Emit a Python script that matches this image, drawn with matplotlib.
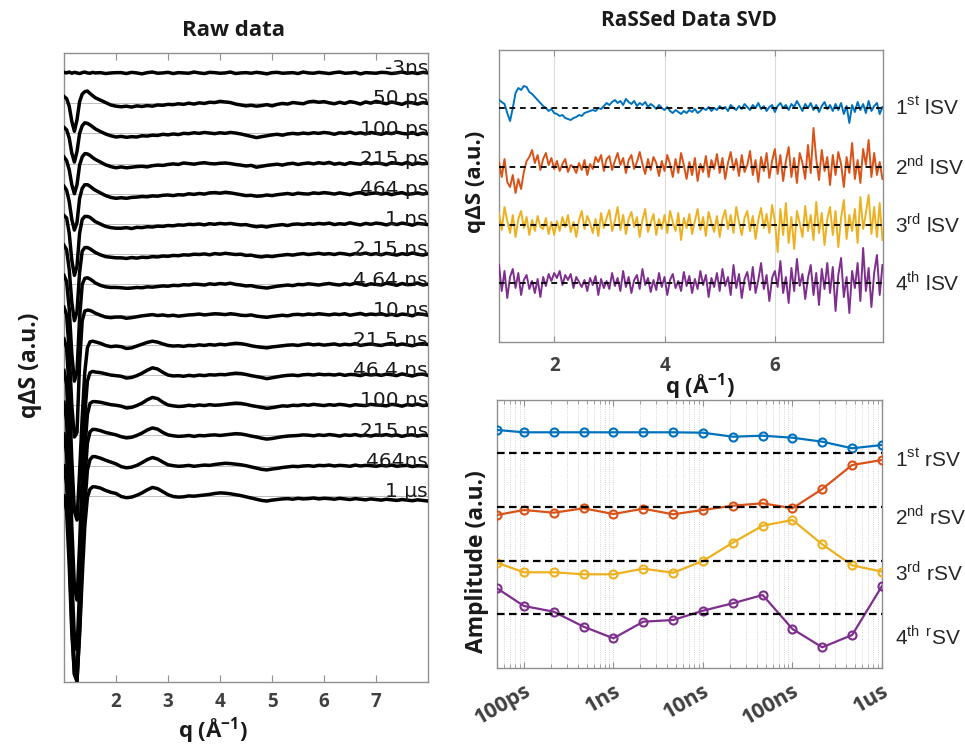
import numpy as np
import matplotlib
matplotlib.use('Agg')
import matplotlib.pyplot as plt
import matplotlib.transforms as mtransforms
from matplotlib.ticker import LogLocator, NullFormatter, FixedLocator

plt.rcParams['font.family'] = ['Liberation Sans', 'DejaVu Sans']
plt.rcParams['mathtext.fontset'] = 'custom'
plt.rcParams['mathtext.rm'] = 'Liberation Sans'
plt.rcParams['mathtext.bf'] = 'Open Sans:bold'

# ---------------- DATA ----------------
delay_labels = ['-3ns', '50 ps', '100 ps', '215 ps', '464 ps', '1 ns', '2.15 ns',
                '4.64 ns', '10 ns', '21.5 ns', '46.4 ns', '100 ns', '215 ns', '464ns', '1 µs']

q_raw = np.round(np.concatenate([np.arange(1.0, 1.601, 0.05), [1.7, 1.8, 1.9, 2.0],
                                 np.arange(2.1, 8.001, 0.1)]), 2)

raw_m3ns = [2, 0, 3, -1, 2, 0, -2, 1, 3, 0, -1, 2, 0, 1, -2, 0, 1,
            1, -2, 2, 0, -3, 1, 3, -1, 0, 2, -2, 1, 0, -1, 3, 0, -2, 2, 1, -1,
            0, 3, -2, 0, 1, -1, 2, 0, -3, 1, 2, -1, 0, 1, -2, 3, 0, -1, 2, 0,
            -2, 1, 3, -1, 0, 2, -3, 1, 0, -1, 2, 1, -2, 0, 3, -1, 1, -2, 2, 0]
raw_50ps = [22, 15, -10, -60, -93, -55, 5, 30, 38, 40, 32, 25, 18, 10, 2, -6, -10,
            -12, -10, -13, -9, -11, -8, -10, -6, -7, -4, -5, -2, -4, 0, -3, 1, -1, 3, 2, 6,
            4, 2, -3, -6, -9, -7, -10, -8, -5, -9, -4, -1, -3, 2, 0, -2, 4, 6, 3, 5,
            1, -2, 3, -1, 5, 2, -3, 4, 0, 6, 2, -2, 4, 0, -4, 3, 1, -3, 2, -1]
raw_100ps = [20, 12, -15, -65, -95, -60, 0, 25, 35, 33, 28, 22, 15, 6, -2, -8, -12,
             -10, -13, -11, -12, -8, -9, -6, -7, -3, -5, -2, -4, 0, -1, 2, 0, 3, 1, -1, 2,
             0, 3, 1, -2, -6, -10, -14, -11, -8, -5, -3, -6, -2, 0, -2, 1, -1, 2, 0, 3,
             1, -3, 2, 0, 4, -1, 2, -2, 3, 0, -3, 2, -1, 4, 0, -2, 3, -4, 1, -2]
raw_215ps = [22, 10, -20, -70, -100, -70, -5, 22, 33, 32, 27, 20, 14, 5, -4, -10, -14,
             -11, -14, -12, -10, -9, -11, -7, -5, -6, -3, -1, -3, 2, 0, -2, 1, 3, 0, -1, 1,
             2, 0, -3, -5, -8, -6, -12, -9, -6, -4, -2, -5, -1, 1, -3, 0, 2, -1, 3, 0,
             4, -2, 1, -3, 3, 0, -2, 5, -1, 2, 0, -4, 3, 1, -2, 4, -3, 2, -1, 1]
raw_464ps = [25, 12, -25, -85, -120, -95, -15, 18, 30, 30, 25, 18, 12, 3, -6, -12, -15,
             -13, -15, -12, -11, -9, -10, -7, -8, -5, -4, -6, -3, -4, 0, -2, 1, -1, 3, 4, 2,
             5, 3, 0, -3, -6, -5, -8, -7, -4, -6, -3, -1, 1, -2, 2, 0, -1, 3, 1, 4,
             2, -1, 3, 0, -3, 2, 4, -2, 1, 3, -1, 2, -3, 1, 4, -2, 0, 3, -1, 2]
raw_1ns = [28, 20, -30, -120, -170, -140, -30, 15, 25, 25, 22, 15, 8, 0, -8, -12, -14,
           -14, -12, -15, -11, -12, -9, -10, -7, -8, -5, -6, -3, -4, -1, -2, 0, -3, 1, -1, 2,
           0, 2, -1, -3, -2, -6, -9, -7, -10, -6, -4, -2, -5, -1, 0, -2, 1, -1, 2, 0,
           3, -2, 1, -1, 4, 0, -3, 2, -1, 3, 1, -3, 2, -2, 3, 0, -4, 2, 0, -2]
raw_2p15ns = [30, 15, -50, -160, -220, -190, -60, 10, 22, 22, 18, 12, 6, -2, -8, -10, -12,
              -12, -14, -11, -13, -10, -11, -8, -9, -6, -7, -4, -5, -2, -3, 0, -1, 1, -2, 2, 0,
              3, 1, -1, 0, -4, -3, -7, -9, -6, -8, -5, -3, -1, -3, 0, 2, -1, 1, 3, 0,
              2, -1, 3, 1, -2, 2, 0, 4, -1, 2, -2, 3, 0, -3, 2, -1, 4, 0, -3, 1]
raw_4p64ns = [30, 10, -80, -230, -320, -290, -110, 0, 20, 22, 18, 12, 5, -3, -8, -10, -10,
              -11, -13, -12, -10, -11, -8, -9, -7, -5, -6, -3, -4, -1, -2, 1, 0, -2, 2, 0, 3,
              1, 4, 0, -2, -5, -4, -8, -10, -12, -9, -6, -4, -2, -4, 0, -1, 2, 0, -2, 1,
              3, 0, -2, 2, -1, 4, 1, -3, 2, 0, -2, 4, 1, -3, 3, -1, 0, 5, -2, 1]
raw_10ns = [25, 0, -120, -300, -405, -390, -160, -20, 12, 15, 14, 10, 5, -2, -8, -10, -8,
            -8, -12, -10, -7, -4, -2, 0, -3, -1, -4, -2, -5, -3, -1, 0, 2, -1, 1, 3, 2,
            0, 3, 1, -2, -3, -1, -5, -7, -9, -6, -4, -2, -4, 0, 1, -1, 2, 0, 3, 1,
            -1, 2, 0, 3, -2, 1, 4, -1, 2, 0, 3, -2, 1, -3, 2, 0, -4, 3, 1, -2]
raw_21p5ns = [20, -10, -150, -380, -550, -580, -420, -240, -90, -10, 10, 12, 10, 5, -2, -6, -4,
              -6, -12, -10, -4, 2, 8, 12, 9, 3, -2, -4, -3, -5, -2, -3, 0, -2, 1, -1, 2,
              0, 3, 5, 4, 1, -3, -6, -8, -10, -7, -5, -3, -1, 0, -2, 1, 3, 0, 2, -1,
              1, 3, -1, 2, 0, 4, -2, 1, 3, 0, -2, 2, 5, -1, 3, 0, -3, 2, 4, 1]
raw_46p4ns = [15, -30, -220, -500, -700, -745, -560, -330, -130, -20, 8, 12, 10, 8, 4, 0, -2,
              -4, -10, -8, -2, 6, 16, 24, 20, 9, 0, -3, -2, -4, -1, -3, 0, -2, 1, 0, 2,
              1, 4, 6, 5, 2, -2, -5, -8, -12, -9, -6, -3, -1, 0, -2, 1, 2, 0, 3, 1,
              2, 0, 3, -1, 2, 1, -2, 3, 0, 2, -1, 3, 1, -2, 4, 0, -3, 2, 3, -1]
raw_100ns = [10, -50, -270, -570, -770, -810, -610, -360, -150, -30, 6, 12, 12, 10, 6, 2, 0,
             -3, -9, -7, -1, 7, 18, 26, 22, 10, 1, -2, -4, -3, 0, -2, 1, -1, 2, 0, 1,
             3, 5, 7, 6, 3, -1, -4, -7, -10, -8, -5, -2, -3, 0, -1, 2, 0, 3, 1, -1,
             2, 0, 3, 1, -2, 2, 0, -1, 3, 1, 0, -2, 3, 1, -3, 2, 0, 4, -1, 1]
raw_215ns = [5, -60, -290, -580, -760, -790, -600, -350, -150, -25, 12, 20, 20, 16, 10, 6, 2,
             -4, -8, -6, 0, 8, 18, 25, 21, 10, 2, -1, -3, -2, 0, -3, 0, -1, 1, 2, 0,
             2, 4, 6, 5, 2, -2, -5, -9, -12, -10, -7, -4, -2, -1, 0, 2, 1, -1, 2, 0,
             3, 1, -2, 2, 0, 3, -1, 1, -2, 2, 0, 3, -1, 2, -3, 1, 2, -2, 1, 0]
raw_464ns = [0, -60, -270, -530, -690, -715, -540, -320, -130, -15, 20, 30, 30, 25, 18, 12, 6,
             -3, -7, -5, 1, 10, 20, 27, 22, 12, 3, 0, -2, -1, 1, -2, 0, 2, 1, 4, 6,
             8, 7, 5, 3, 0, -4, -8, -12, -14, -11, -9, -6, -4, -2, -3, -1, 0, -2, 1, 0,
             2, -1, 1, 0, -2, 2, -1, 1, 0, -2, 1, -1, 2, -2, 0, 1, -3, 0, -1, -2]
raw_1us = [0, -50, -230, -450, -590, -610, -460, -270, -100, -5, 22, 30, 30, 26, 18, 12, 8,
           -2, -6, -4, 2, 10, 20, 28, 24, 14, 4, -2, -4, -3, 0, -1, 1, 3, 5, 8, 10,
           9, 7, 4, 1, -3, -7, -11, -15, -17, -14, -12, -10, -9, -11, -8, -10, -9, -7, -10, -8,
           -9, -11, -8, -10, -12, -9, -11, -13, -10, -12, -14, -11, -13, -15, -12, -14, -16, -13, -15, -17]

raw_curves = [raw_m3ns, raw_50ps, raw_100ps, raw_215ps, raw_464ps, raw_1ns, raw_2p15ns,
              raw_4p64ns, raw_10ns, raw_21p5ns, raw_46p4ns, raw_100ns, raw_215ns, raw_464ns, raw_1us]

# left singular vectors (q = 1.00 ... 7.95, step 0.05)
q_svd = np.round(np.arange(1.0, 7.951, 0.05), 2)
lsv1 = [8, 6, 4, -5, -13, 0, 15, 20, 18, 22, 21, 16, 14, 11, 8, 5, 2, 0, -3, -1,
        -5, -6, -8, -7, -10, -11, -12, -10, -9, -7, -8, -5, -4, -3, -2, -3, 0, -1, 2, 5,
        3, 6, 8, 5, 7, 3, 9, 6, 4, 7, 2, 5, 3, 6, 1, 4, 2, -1, 3, 0,
        -2, 1, -3, -5, -2, -4, -6, -3, -5, -2, -4, -1, -5, -3, 0, -2, 1, -3, 0, -2,
        2, -1, 1, -3, 3, 0, -2, 2, -1, 4, 1, -2, 3, 0, 5, -1, 2, -3, 1, 3,
        -4, 2, 5, 0, 3, -2, 4, 1, 7, 2, -3, 4, 0, 5, -2, 3, -4, 2, 6, -1,
        3, -3, 4, -2, 5, -6, 2, -15, 3, -4, 6, -2, 4, -5, 7, -3, 2, 5, -6, 1]
lsv2 = [5, -10, 8, -15, -20, -8, -26, -12, -22, -5, 6, 10, 17, 4, 12, -3, 8, 14, 2, 9,
        -2, 6, -4, 3, 8, -5, 2, 0, -6, 4, -3, 7, -8, 3, -2, 10, 5, 12, -4, 8,
        11, -3, 6, 14, 2, 9, -6, 7, 12, -2, 5, 15, 3, -7, 8, -3, 10, 4, -9, 6,
        -4, 12, 3, -10, 8, -6, 14, 2, -12, 5, -8, 9, -14, 3, -5, 11, -10, 7, -2, 13,
        -6, 9, -12, 4, 15, -3, 8, -9, 12, -5, 2, 16, -8, 7, -15, 10, -4, 14, -11, 6,
        18, -7, 12, -14, 6, 20, -10, 9, -16, 14, 4, -12, 22, -6, 39, 8, -13, 17, -4, 10,
        -18, 12, -8, 15, 3, -20, 10, -6, 24, -12, 7, -16, 18, 2, 27, -10, 14, -8, 5, -12]
lsv3 = [12, -5, 18, 4, -8, 10, -12, 6, 14, -3, 8, -10, 5, -6, 9, -2, -4, 7, -9, 3,
        -10, 4, -6, 8, -2, 10, -7, 3, -12, 5, 14, -4, 9, 2, -8, 6, -11, 12, -3, 7,
        15, -6, 4, 18, -5, 10, -9, 6, 13, -2, 8, -12, 5, 16, -7, 2, 11, -10, 6, -4,
        10, -8, 14, 3, -6, 12, -15, 7, -3, 11, -9, 4, 16, -5, 8, -11, 13, 2, -7, 9,
        -12, 6, 15, -4, 10, -8, 18, 3, -10, 7, 14, -6, 9, -14, 5, 17, -3, 11, -8, 20,
        4, -27, 16, -10, 22, -18, 8, -24, 14, 2, -12, 19, -6, 10, -15, 23, -8, 12, -20, 6,
        18, -10, 14, -22, 7, 25, -14, 10, -6, 16, -18, 28, -4, 12, 30, -9, 18, -12, 22, -15]
lsv4 = [18, -8, 12, -15, 6, 14, -5, 10, -12, 3, 8, -6, 2, -10, 4, -14, 6, -3, 9, 2,
        10, 5, 12, -2, 8, 3, 9, -5, 6, 1, -4, 3, -8, 5, -2, 7, -12, 4, -5, 2,
        -6, 10, -3, 5, -8, 12, -4, 6, -10, 3, 8, -6, 14, -2, 5, -9, 3, -7, 10, -4,
        6, -12, 3, 9, -5, 2, -8, 11, -3, 7, -10, 4, -6, 12, -2, 8, -14, 5, -4, 10,
        -8, 14, -3, 6, -12, 18, -5, 9, -15, 4, 11, -7, 16, -10, 3, 20, -6, 8, -18, 5,
        12, -4, 22, -10, 6, -20, 15, -8, 24, -3, 9, -16, 5, 18, -12, 10, -22, 14, -6, 20,
        -10, 16, -28, 8, 25, -14, 6, -30, 12, -5, 20, -18, 35, -8, 15, -24, 10, 28, -12, 18]
lsv_curves = [lsv1, lsv2, lsv3, lsv4]
lsv_labels = [r'1$^{\mathrm{st}}$ lSV', r'2$^{\mathrm{nd}}$ lSV',
              r'3$^{\mathrm{rd}}$ lSV', r'4$^{\mathrm{th}}$ lSV']

# right singular vectors vs time delay
t_delay = [50e-12, 100e-12, 215e-12, 464e-12, 1e-9, 2.15e-9, 4.64e-9, 10e-9,
           21.5e-9, 46.4e-9, 100e-9, 215e-9, 464e-9, 1e-6]
rsv1 = [2.27, 2.04, 2.04, 2.04, 2.04, 2.04, 2.04, 2.0, 1.6, 1.7, 1.5, 1.1, 0.44, 0.77]
rsv2 = [-0.8, -0.3, -0.57, -0.13, -0.7, -0.17, -0.73, -0.3, 0.13, 0.37, -0.13, 1.8, 4.2, 4.7]
rsv3 = [-0.17, -1.13, -1.13, -1.33, -1.33, -0.77, -1.17, 0.0, 1.83, 3.53, 4.1, 1.67, -0.43, -1.07]
rsv4 = [2.6, 0.83, 0.26, -1.24, -2.4, -0.74, -0.57, 0.36, 1.1, 1.93, -1.47, -3.3, -2.07, 2.83]
rsv_curves = [rsv1, rsv2, rsv3, rsv4]
rsv_labels = [r'1$^{\mathrm{st}}$ rSV', r'2$^{\mathrm{nd}}$ rSV',
              r'3$^{\mathrm{rd}}$ rSV', r'4$^{\mathrm{th}}$ $^{\mathrm{r}}$SV']
time_ticks = [1e-10, 1e-9, 1e-8, 1e-7, 1e-6]
time_ticklabels = ['100ps', '1ns', '10ns', '100ns', '1us']

# ---------------- STYLE / LAYOUT ----------------
colors = ['#0072BD', '#D95319', '#EDB120', '#7E2F8E']
raw_step = 100
lsv_offsets = [234, 175, 117, 59]
rsv_offsets = [21.53, 16.1, 10.7, 5.37]
rsv_label_y = [20.8, 15.1, 9.5, 3.1]
spine_col = '#8f8f8f'
tick_col = '#404040'
bold_font = 'Open Sans'

W, H = 965, 745
fig = plt.figure(figsize=(W / 100, H / 100), dpi=100)


def px_axes(l, t, r, b):
    return fig.add_axes([l / W, 1 - b / H, (r - l) / W, (b - t) / H])


def style_axes(ax):
    for s in ax.spines.values():
        s.set_color(spine_col)
        s.set_linewidth(1.0)
    ax.tick_params(axis='both', which='both', direction='in', colors=spine_col,
                   labelcolor=tick_col, labelsize=13.5)


# ---- Left: Raw data ----
axL = px_axes(64, 53, 428, 682)
style_axes(axL)
for i, (lab, vals) in enumerate(zip(delay_labels, raw_curves)):
    base = -i * raw_step
    axL.axhline(base, color='#bdbdbd', lw=0.7, zorder=1)
    axL.plot(q_raw, base + np.array(vals), color='black', lw=2.5, zorder=3,
             solid_joinstyle='round')
    axL.text(8.0, base - 4, lab, ha='right', va='baseline', fontsize=14.5,
             family='DejaVu Sans', color='#1a1a1a', zorder=5, clip_on=False)
axL.set_xlim(1, 8)
axL.set_ylim(-14 * raw_step - 616, 66)
axL.set_xticks([2, 3, 4, 5, 6, 7])
axL.set_yticks([])
axL.tick_params(axis='x', top=True, length=5, pad=7)
for lbl in axL.get_xticklabels():
    lbl.set_fontweight('bold')
    lbl.set_family(bold_font)

fig.text(233 / W, 1 - 31 / H, 'Raw data', ha='center', va='center', fontsize=16,
         fontweight='bold', family=bold_font, color='#1a1a1a')
fig.text(213 / W, 1 - 731 / H, r'q (Å$^{\mathbf{-1}}$)', ha='center', va='center',
         fontsize=16, fontweight='bold', family=bold_font, color='#1a1a1a')
fig.text(30 / W, 1 - 365 / H, 'qΔS (a.u.)', ha='center', va='center', rotation=90,
         fontsize=16.5, fontweight='bold', family=bold_font, color='#1a1a1a')

# ---- Top right: lSV ----
axT = px_axes(499, 50, 883, 342)
style_axes(axT)
for off, vals, col, lab in zip(lsv_offsets, lsv_curves, colors, lsv_labels):
    axT.plot(q_svd, off + np.array(vals), color=col, lw=1.4, zorder=3)
    axT.axhline(off, color='black', lw=1.3, ls=(0, (3.2, 2.6)), zorder=4)
    axT.text(1.031, off, lab, transform=mtransforms.blended_transform_factory(axT.transAxes, axT.transData),
             ha='left', va='center', fontsize=15, color='#262626', clip_on=False)
axT.set_xlim(1, 7.96)
axT.set_ylim(0, 292)
axT.set_xticks([2, 4, 6])
axT.set_yticks([])
axT.grid(True, axis='x', color='#dcdcdc', lw=0.8)
axT.tick_params(axis='x', top=True, length=4, pad=10)
for lbl in axT.get_xticklabels():
    lbl.set_fontweight('bold')
    lbl.set_family(bold_font)

fig.text(689 / W, 1 - 20 / H, 'RaSSed Data SVD', ha='center', va='center', fontsize=15,
         fontweight='bold', family=bold_font, color='#1a1a1a')
fig.text(700 / W, 1 - 387 / H, r'q (Å$^{\mathbf{-1}}$)', ha='center', va='center',
         fontsize=16, fontweight='bold', family=bold_font, color='#1a1a1a')
fig.text(476 / W, 1 - 182 / H, 'qΔS (a.u.)', ha='center', va='center', rotation=90,
         fontsize=16, fontweight='bold', family=bold_font, color='#1a1a1a')

# ---- Bottom right: rSV ----
axB = px_axes(497, 400, 882, 668)
style_axes(axB)
axB.set_xscale('log')
for off, vals, col, ly, lab in zip(rsv_offsets, rsv_curves, colors, rsv_label_y, rsv_labels):
    axB.plot(t_delay, off + np.array(vals), color=col, lw=1.6, marker='o', ms=5.8,
             mfc='none', mec=col, mew=1.5, zorder=3)
    axB.axhline(off, color='black', lw=1.6, ls=(0, (3.4, 2.0)), zorder=4)
    axB.text(1.034, ly, lab, transform=mtransforms.blended_transform_factory(axB.transAxes, axB.transData),
             ha='left', va='center', fontsize=15, color='#262626', clip_on=False)
axB.set_xlim(5e-11, 1e-6)
axB.set_ylim(0, 26.8)
axB.xaxis.set_major_locator(FixedLocator(time_ticks))
axB.xaxis.set_minor_locator(LogLocator(base=10, subs=np.arange(2, 10), numticks=20))
axB.xaxis.set_minor_formatter(NullFormatter())
axB.set_xticklabels(time_ticklabels)
axB.set_yticks([])
axB.grid(True, which='both', axis='x', color='#c8c8c8', lw=0.6, ls=':')
axB.tick_params(axis='x', which='both', top=True, length=3)
axB.tick_params(axis='x', which='major', length=4, pad=9)
for lbl in axB.get_xticklabels():
    lbl.set_fontweight('bold')
    lbl.set_family(bold_font)
    lbl.set_fontsize(15.5)
    lbl.set_rotation(30)
    lbl.set_ha('right')
    lbl.set_rotation_mode('anchor')

fig.text(477 / W, 1 - 562 / H, 'Amplitude (a.u.)', ha='center', va='center', rotation=90,
         fontsize=16.5, fontweight='bold', family=bold_font, color='#1a1a1a')

fig.savefig('out.png', dpi=100, facecolor='white')
